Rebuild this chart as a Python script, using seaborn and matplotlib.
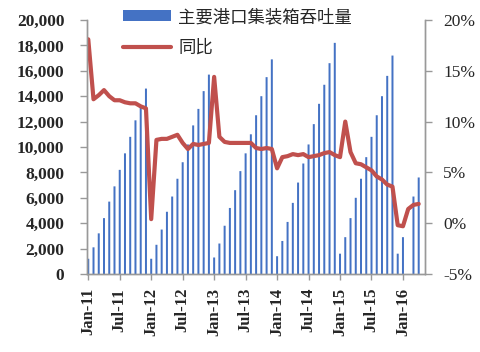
import numpy as np
import pandas as pd
import seaborn as sns
import matplotlib.pyplot as plt
from matplotlib.ticker import MultipleLocator, FuncFormatter

# monthly categories, Jan-11 .. Apr-16
months = pd.date_range('2011-01-01', '2016-04-01', freq='MS').strftime('%b-%y').tolist()

# cumulative container throughput (bars, left axis)
teu_2011 = [1200, 2100, 3200, 4400, 5700, 6900, 8200, 9500, 10800, 12100, 13100, 14600]
teu_2012 = [1200, 2300, 3500, 4900, 6100, 7500, 8800, 10200, 11700, 13000, 14400, 15700]
teu_2013 = [1300, 2400, 3800, 5200, 6600, 8100, 9500, 11000, 12500, 14000, 15500, 16900]
teu_2014 = [1400, 2600, 4100, 5600, 7200, 8700, 10200, 11800, 13400, 14900, 16600, 18200]
teu_2015 = [1600, 2900, 4400, 6000, 7500, 9200, 10800, 12500, 14000, 15600, 17200, 1600]
teu_2016 = [2900, np.nan, 6100, 7600]
teu = teu_2011 + teu_2012 + teu_2013 + teu_2014 + teu_2015 + teu_2016

# year-on-year growth, % (line, right axis)
yoy = [18.1, 12.2, 12.6, 13.1, 12.5, 12.1, 12.1, 11.9, 11.8, 11.8, 11.5, 11.3,
       0.4, 8.2, 8.3, 8.3, 8.5, 8.7, 7.9, 7.3, 7.8, 7.7, 7.8, 7.9,
       14.4, 8.5, 8.0, 7.9, 7.9, 7.9, 7.9, 7.9, 7.4, 7.3, 7.4, 7.3,
       5.4, 6.5, 6.6, 6.8, 6.7, 6.8, 6.5, 6.6, 6.7, 6.9, 7.0, 6.7,
       6.5, 10.0, 7.0, 5.9, 5.8, 5.5, 5.2, 4.6, 4.3, 3.8, 3.6, -0.2,
       -0.3, 1.4, 1.8, 1.9]

bar_label = '主要港口集装箱吞吐量'
line_label = '同比'

sns.set_style('white')
plt.rcParams['font.family'] = ['Liberation Serif', 'Noto Sans CJK SC']

fig = plt.figure(figsize=(4.8, 3.52), dpi=100)
ax = fig.add_axes([0.1806, 0.2216, 0.7048, 0.7216])
ax2 = ax.twinx()

sns.barplot(x=months, y=teu, order=months, color='#4472C4', saturation=1,
            width=0.38, errorbar=None, ax=ax, label=bar_label)
for p in ax.patches:
    p.set_snap(False)
    p.set_linewidth(0)
sns.lineplot(x=np.arange(len(months)), y=yoy, ax=ax2, color='#C0504D',
             linewidth=3.0, label=line_label)

ax.set_xlim(-0.3, 64.2)
ax.set_ylim(0, 20000)
ax.yaxis.set_major_locator(MultipleLocator(2000))
ax.yaxis.set_major_formatter(FuncFormatter(lambda v, p: f'{v:,.0f}'))
ax2.set_ylim(-5, 20)
ax2.yaxis.set_major_locator(MultipleLocator(5))
ax2.yaxis.set_major_formatter(FuncFormatter(lambda v, p: f'{v:.0f}%'))

ticks = list(range(0, len(months), 6))
ax.set_xticks(ticks)
ax.set_xticklabels([months[i] for i in ticks], rotation=90, fontsize=12, fontweight='bold')
for lab in ax.get_yticklabels():
    lab.set_fontsize(12.5)
    lab.set_fontweight('bold')
for lab in ax2.get_yticklabels():
    lab.set_fontsize(12.5)
ax.set_xlabel('')
ax.set_ylabel('')
ax2.set_ylabel('')

for a in (ax, ax2):
    for s in a.spines.values():
        s.set_color('#999999')
        s.set_linewidth(1)
    a.spines['top'].set_visible(False)
ax.tick_params(axis='y', length=5, width=1, color='#999999', pad=11, left=True)
ax.tick_params(axis='x', length=4, width=1, color='#999999', pad=6, bottom=True)
ax2.tick_params(axis='y', length=5, width=1, color='#999999', pad=8, right=True)

h1, l1 = ax.get_legend_handles_labels()
h2, l2 = ax2.get_legend_handles_labels()
if ax.get_legend():
    ax.get_legend().remove()
ax2.legend(h1 + h2, l1 + l2, loc='upper left', bbox_to_anchor=(0.256, 0.977),
           bbox_transform=fig.transFigure, frameon=False, borderpad=0, borderaxespad=0,
           handlelength=2.8, handleheight=0.6, handletextpad=0.4, labelspacing=0.75,
           prop={'family': ['Noto Sans CJK SC'], 'size': 12.5})

fig.savefig('out.png', dpi=100)
